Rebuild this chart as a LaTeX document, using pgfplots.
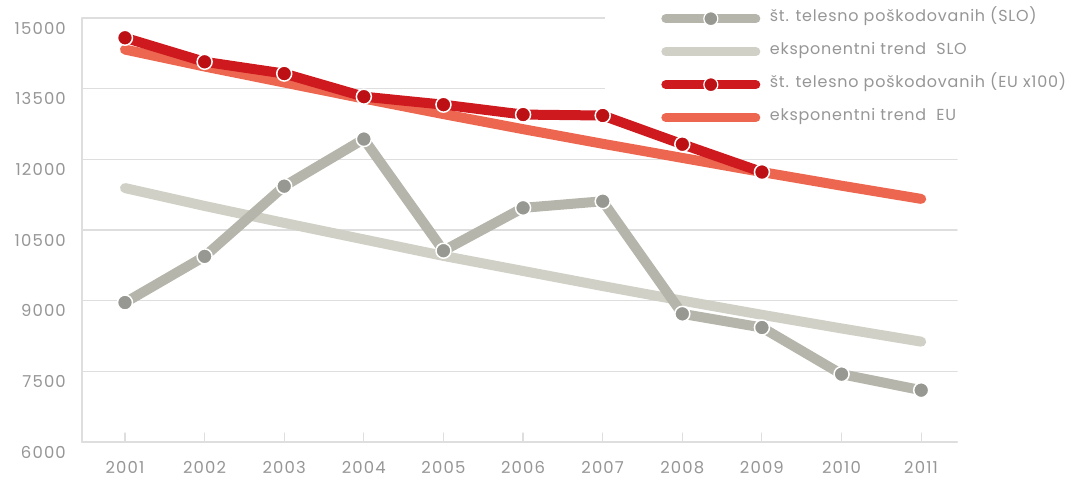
\documentclass[border=0pt]{standalone}
\usepackage{fontspec}
\setmainfont{Poppins}
\newfontfamily\labfont[LetterSpace=7]{Poppins}
\newfontfamily\legfont[LetterSpace=5]{Poppins}
\usepackage{pgfplots}
\usepackage{pgfplotstable}
\pgfplotsset{compat=1.18}

\definecolor{slo}{RGB}{181,181,171}
\definecolor{slomark}{RGB}{152,152,146}
\definecolor{slotrend}{RGB}{208,208,199}
\definecolor{eu}{RGB}{206,26,30}
\definecolor{eumark}{RGB}{188,16,20}
\definecolor{eutrend}{RGB}{237,102,80}
\definecolor{gridc}{RGB}{222,222,222}
\definecolor{labelc}{RGB}{150,150,150}

% stevilo telesno poskodovanih, SLO
\pgfplotstableread{
year value
2001 8960
2002 9940
2003 11430
2004 12430
2005 10060
2006 10970
2007 11110
2008 8720
2009 8430
2010 7440
2011 7100
}\slodata

% eksponentni trend SLO
\pgfplotstableread{
year value
2001 11390
2002 11010
2003 10650
2004 10300
2005 9950
2006 9630
2007 9310
2008 9000
2009 8700
2010 8410
2011 8130
}\slotrend

% EU x100
\pgfplotstableread{
year value
2001 14580
2002 14070
2003 13820
2004 13330
2005 13160
2006 12950
2007 12930
2008 12320
2009 11730
}\eudata

% eksponentni trend EU
\pgfplotstableread{
year value
2001 14330
2002 13970
2003 13630
2004 13290
2005 12960
2006 12640
2007 12330
2008 12030
2009 11730
2010 11440
2011 11160
}\eutrend

\begin{document}
\begin{tikzpicture}[x=1bp,y=1bp]
\useasboundingbox (0,0) rectangle (1089,479);
\begin{axis}[
    at={(82bp,37bp)}, anchor=south west,
    scale only axis, width=875bp, height=424bp,
    xmin=2000.46, xmax=2011.45, ymin=6000, ymax=15000,
    clip=false,
    axis lines*=left,
    axis line style={gridc, line width=1.5bp},
    xtick={2001,...,2011},
    ytick={6000,7500,...,15000},
    scaled y ticks=false,
    ymajorgrids,
    grid style={gridc, line width=1.5bp},
    xtick align=inside,
    major tick length=9bp,
    xtick style={gridc, line width=1.2bp},
    ytick style={draw=none},
    tick label style={font=\labfont\fontsize{16.5}{19}\selectfont, text=labelc},
    y tick label style={anchor=east, inner sep=0pt, xshift=-16bp, yshift=-10bp},
    x tick label style={anchor=north, inner sep=0pt, yshift=-19bp},
    /pgf/number format/assume math mode=true,
    /pgf/number format/1000 sep={},
    line join=round, line cap=round,
    legend style={at={(0.655,1.0425)}, anchor=north west, draw=none, fill=none,
      inner xsep=6bp, inner ysep=2bp, row sep=0pt,
      font=\legfont\fontsize{16}{19}\selectfont, text=labelc,
      nodes={inner sep=0pt, text height=19bp, text depth=14bp}},
    legend cell align=left,
  ]

  % white panel behind the legend (hides the grid lines there)
  \fill[white] (rel axis cs:0.598,0.807) rectangle (rel axis cs:1.3,1.06);

  \addplot[forget plot, slotrend, line width=10bp] table[x=year, y=value] {\slotrend};
  \addplot[forget plot, slo, line width=10bp, mark=*, mark size=7.5bp,
    mark options={fill=slomark, draw=white, line width=1.5bp}] table[x=year, y=value] {\slodata};
  \addplot[forget plot, eutrend, line width=10bp] table[x=year, y=value] {\eutrend};
  \addplot[forget plot, eu, line width=10bp, mark=*, mark size=7.5bp,
    mark options={fill=eumark, draw=white, line width=1.5bp}] table[x=year, y=value] {\eudata};

  \addlegendimage{legend image code/.code={
      \draw[slo, line width=9bp, line cap=round] (0bp,0bp) -- (90bp,0bp);
      \draw[fill=slomark, draw=white, line width=1.2bp] (45bp,0bp) circle (7bp);
      \path[draw=none] (0bp,0bp) -- (104bp,0bp);}}
  \addlegendimage{legend image code/.code={
      \draw[slotrend, line width=9bp, line cap=round] (0bp,0bp) -- (90bp,0bp);
      \path[draw=none] (0bp,0bp) -- (104bp,0bp);}}
  \addlegendimage{legend image code/.code={
      \draw[eu, line width=9bp, line cap=round] (0bp,0bp) -- (90bp,0bp);
      \draw[fill=eumark, draw=white, line width=1.2bp] (45bp,0bp) circle (7bp);
      \path[draw=none] (0bp,0bp) -- (104bp,0bp);}}
  \addlegendimage{legend image code/.code={
      \draw[eutrend, line width=9bp, line cap=round] (0bp,0bp) -- (90bp,0bp);
      \path[draw=none] (0bp,0bp) -- (104bp,0bp);}}
  \legend{št. telesno poškodovanih (SLO), eksponentni trend\ \ SLO,
    št. telesno poškodovanih (EU x100), eksponentni trend\ \ EU}
\end{axis}
\end{tikzpicture}
\end{document}
